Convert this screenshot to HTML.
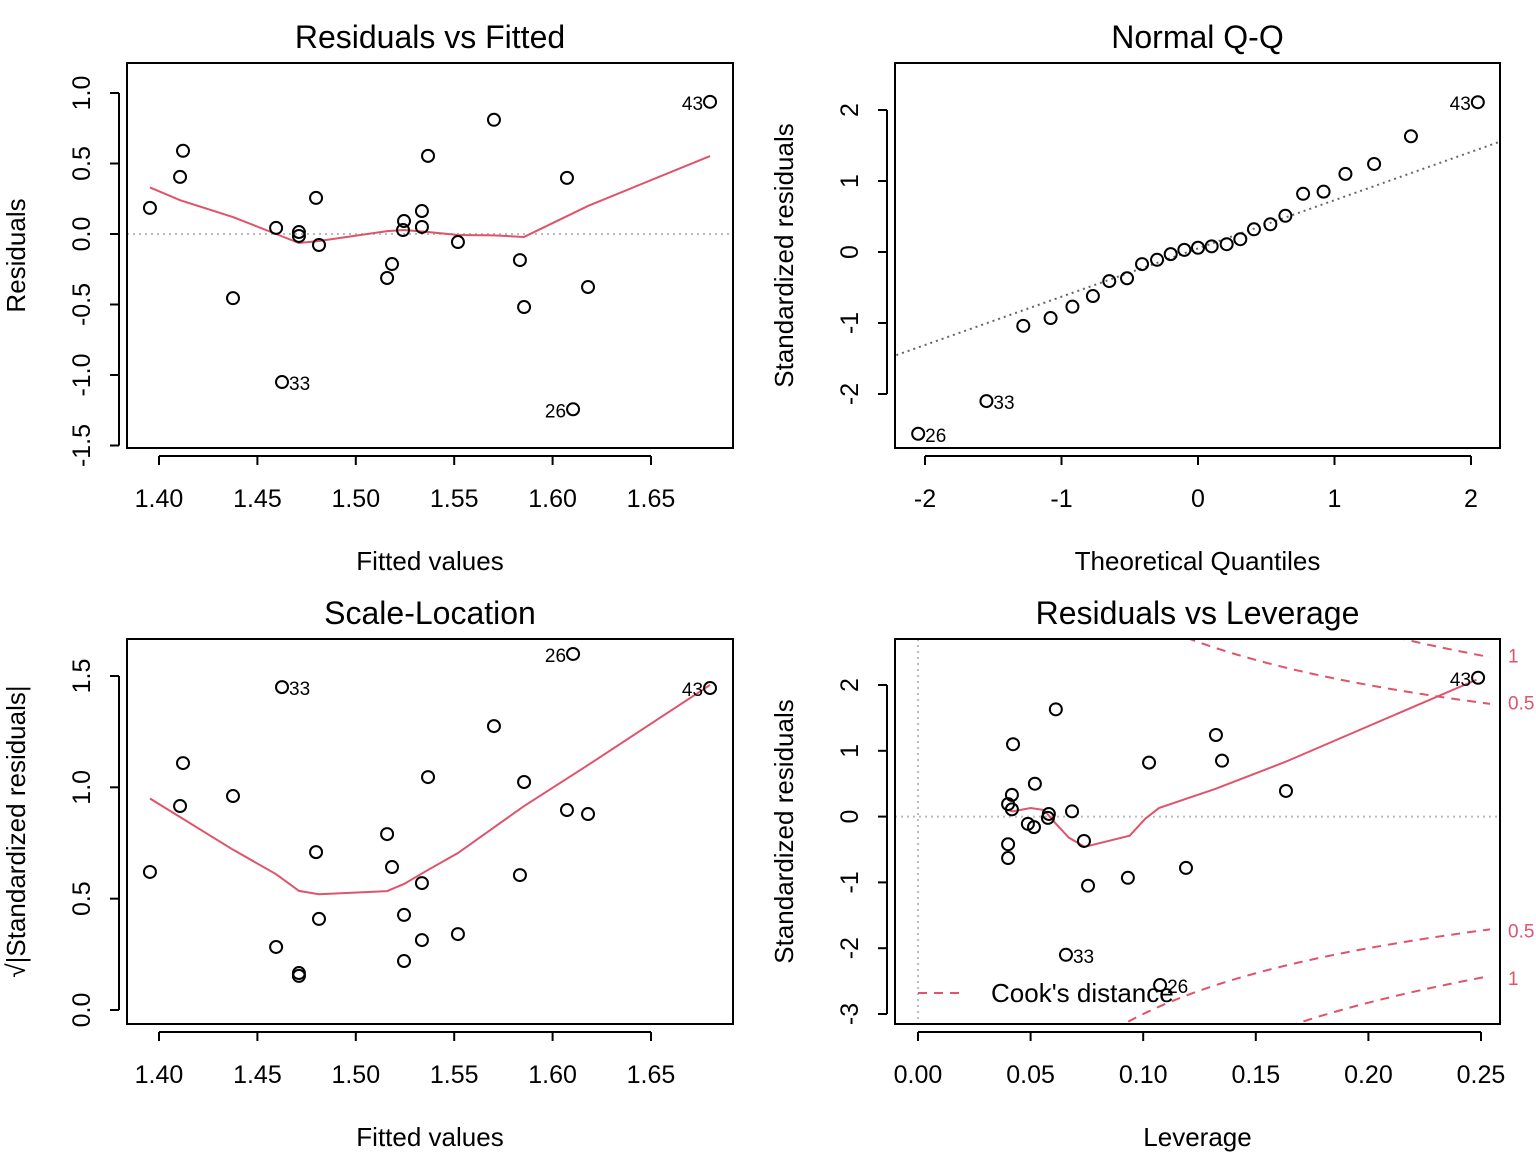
<!DOCTYPE html>
<html><head><meta charset="utf-8"><style>
html,body{margin:0;padding:0;background:#fff;overflow:hidden;width:1536px;height:1152px;}
svg{display:block;font-family:"Liberation Sans",Arial,sans-serif;overflow:hidden;}
</style></head><body>
<svg id="c" width="1536" height="1152" viewBox="0 0 1536 1152" xmlns="http://www.w3.org/2000/svg"></svg>
<script>
// ---- Panel 1: Residuals vs Fitted ----
const rvfFitted = [1.3954,1.4107,1.4122,1.4376,1.4595,1.4625,1.4711,1.4711,1.4798,1.4813,1.5159,1.5184,1.5245,1.524,1.5336,1.5336,1.5367,1.5519,1.5702,1.5834,1.5855,1.6073,1.6104,1.618,1.68];
const rvfResid = [0.185,0.405,0.59,-0.455,0.043,-1.05,0.014,-0.014,0.256,-0.078,-0.312,-0.213,0.092,0.028,0.163,0.05,0.554,-0.057,0.81,-0.185,-0.518,0.398,-1.243,-0.376,0.9375];
const ptLabels = ["","","","","","33","","","","","","","","","","","","","","","","","26","","43"];
const rvfSmoothX = [1.3954,1.4107,1.4376,1.4595,1.4711,1.4813,1.5159,1.5245,1.5367,1.5519,1.5702,1.5855,1.618,1.68];
const rvfSmoothY = [0.33,0.24,0.12,0.0,-0.064,-0.05,0.02,0.028,0.014,-0.007,-0.01,-0.021,0.199,0.553];
const rvfXTicks = [1.40,1.45,1.50,1.55,1.60,1.65];
const rvfYTicks = [-1.5,-1.0,-0.5,0.0,0.5,1.0];
// ---- Panel 2: Normal Q-Q ----
const qqTheo = [-2.05,-1.55,-1.28,-1.08,-0.92,-0.77,-0.65,-0.52,-0.41,-0.30,-0.20,-0.10,0,0.10,0.21,0.31,0.41,0.53,0.64,0.77,0.92,1.08,1.29,1.56,2.05];
const qqStd = [-2.56,-2.10,-1.04,-0.93,-0.77,-0.62,-0.41,-0.37,-0.17,-0.11,-0.03,0.03,0.06,0.08,0.11,0.18,0.32,0.39,0.51,0.82,0.85,1.10,1.24,1.63,2.11];
const qqLabels = ["26","33","","","","","","","","","","","","","","","","","","","","","","","43"];
const qqLine = [0.05,0.68]; // intercept, slope
const qqXTicks = [-2,-1,0,1,2];
const qqYTicks = [-2,-1,0,1,2];
// ---- Panel 3: Scale-Location ----
const slSqrt = [0.62,0.916,1.109,0.961,0.283,1.45,0.166,0.153,0.709,0.409,0.79,0.642,0.427,0.22,0.57,0.314,1.046,0.341,1.275,0.606,1.024,0.898,1.599,0.88,1.446];
const slFitted = [1.3954,1.4107,1.4122,1.4376,1.4595,1.4625,1.4711,1.4711,1.4798,1.4813,1.5159,1.5184,1.5245,1.5245,1.5336,1.5336,1.5367,1.5519,1.5702,1.5834,1.5855,1.6073,1.6104,1.618,1.68];
const slSmoothX = [1.3954,1.4376,1.4595,1.4711,1.4813,1.5159,1.5245,1.5367,1.5519,1.5855,1.618,1.68];
const slSmoothY = [0.95,0.72,0.61,0.535,0.52,0.534,0.566,0.629,0.705,0.916,1.10,1.46];
const slYTicks = [0.0,0.5,1.0,1.5];
// ---- Panel 4: Residuals vs Leverage ----
const levH = [0.0612,0.0422,0.1323,0.1350,0.1026,0.0519,0.1634,0.0417,0.0400,0.0417,0.0581,0.0577,0.0684,0.0488,0.0515,0.0737,0.0400,0.0400,0.1190,0.0932,0.0755,0.0657,0.1075,0.2487];
const levStd = [1.63,1.10,1.24,0.85,0.82,0.50,0.39,0.33,0.19,0.11,0.04,-0.02,0.08,-0.11,-0.16,-0.37,-0.42,-0.63,-0.78,-0.93,-1.05,-2.10,-2.56,2.11];
const levLabels = ["","","","","","","","","","","","","","","","","","","","","","33","26","43"];
const levSmoothX = [0.040,0.042,0.050,0.056,0.061,0.067,0.074,0.081,0.094,0.101,0.107,0.119,0.132,0.163,0.248];
const levSmoothY = [0.10,0.08,0.13,0.10,-0.10,-0.32,-0.46,-0.40,-0.29,-0.03,0.13,0.27,0.42,0.83,2.08];
const cookLevels = [0.5,1];
const levXTicks = [0.00,0.05,0.10,0.15,0.20,0.25];
const levYTicks = [-3,-2,-1,0,1,2];

const svg = document.getElementById('c');
const NS = 'http://www.w3.org/2000/svg';
function mk(tag, attrs, parent){ const e=document.createElementNS(NS,tag); for(const k in attrs) e.setAttribute(k,attrs[k]); (parent||svg).appendChild(e); return e; }
const RED = '#DF536B';
function linScale(d0,d1,p0,p1){ return v => p0 + (v-d0)*(p1-p0)/(d1-d0); }

function panel(cfg){
  const g = mk('g',{});
  
  
  const {L,T,R,B} = cfg.box;
  const sx = cfg.sx, sy = cfg.sy;
  const clipId = cfg.name+'-clip';
  const cp = mk('clipPath',{id:clipId},g); mk('rect',{x:L,y:T,width:R-L,height:B-T},cp);
  const t = mk('text',{x:(L+R)/2,y:T-15,'text-anchor':'middle','font-size':32},g); t.textContent = cfg.title;
   
  const xa = mk('g',{},g);
   
  mk('line',{x1:sx(cfg.xt[0]),x2:sx(cfg.xt[cfg.xt.length-1]),y1:B+8,y2:B+8,stroke:'#000','stroke-width':2},xa);
  cfg.xt.forEach(v=>{ const x=sx(v);
    mk('line',{x1:x,x2:x,y1:B+8,y2:B+17,stroke:'#000','stroke-width':2},xa);
    const tx=mk('text',{x:x,y:B+59,'text-anchor':'middle','font-size':25},xa); tx.textContent=cfg.xfmt(v);
      });
  const xl=mk('text',{x:(L+R)/2,y:B+122,'text-anchor':'middle','font-size':26},g); xl.textContent=cfg.xlab;
   
  const ya = mk('g',{},g);
   
  mk('line',{x1:L-8,x2:L-8,y1:sy(cfg.yt[0]),y2:sy(cfg.yt[cfg.yt.length-1]),stroke:'#000','stroke-width':2},ya);
  cfg.yt.forEach(v=>{ const y=sy(v);
    mk('line',{x1:L-8,x2:L-17,y1:y,y2:y,stroke:'#000','stroke-width':2},ya);
    const tx=mk('text',{x:0,y:0,'text-anchor':'middle','font-size':25,transform:`translate(${L-37},${y}) rotate(-90)`},ya); tx.textContent=cfg.yfmt(v);
      });
  const yl=mk('text',{x:0,y:0,'text-anchor':'middle','font-size':26,transform:`translate(${L-102},${(T+B)/2}) rotate(-90)`},g); yl.textContent=cfg.ylab;
   
  const pc = mk('g',{'clip-path':`url(#${clipId})`},g);
  if(cfg.pre) cfg.pre(pc);
  if(cfg.smx){
    const s = mk('polyline',{points:cfg.smx.map((x,i)=>sx(x)+','+sy(cfg.smy[i])).join(' '),fill:'none',stroke:RED,'stroke-width':2},pc);
     
  }
  cfg.px.forEach((x,i)=>{
    const c = mk('circle',{cx:sx(x),cy:sy(cfg.py[i]),r:6,fill:'none',stroke:'#000','stroke-width':2},g);
     
    const lab = cfg.labs[i];
    if(lab){
      const right = sx(x) < (L+R)/2 + 150 && !(cfg.leftLab && cfg.leftLab.includes(lab));
      const tl = mk('text',{x: right? sx(x)+7 : sx(x)-7, y: sy(cfg.py[i])+8,'text-anchor': right?'start':'end','font-size':19},g);
      tl.textContent = lab;
       
    }
  });
  if(cfg.post) cfg.post(g);
  const bx = mk('rect',{x:L,y:T,width:R-L,height:B-T,fill:'none',stroke:'#000','stroke-width':2},g);
   
}
const f2 = v=>v.toFixed(2), f1=v=>v.toFixed(1), f0=v=>String(v);

{ const sx=linScale(1.40,1.65,159,651), sy=linScale(0,1.0,234,93);
  panel({name:'residuals-vs-fitted',box:{L:127,T:63,R:733,B:448},sx,sy,title:'Residuals vs Fitted',xlab:'Fitted values',ylab:'Residuals',
    xt:rvfXTicks,yt:rvfYTicks,xfmt:f2,yfmt:f1,px:rvfFitted,py:rvfResid,labs:ptLabels,leftLab:['26','43'],smx:rvfSmoothX,smy:rvfSmoothY,
    pre:pc=>{ const l=mk('line',{x1:127,x2:733,y1:sy(0),y2:sy(0),stroke:'#bbb','stroke-width':2,'stroke-dasharray':'2 4'},pc);   }}); }
{ const sx=linScale(0,2,1198,1471), sy=linScale(0,2,252,110);
  panel({name:'normal-qq',box:{L:895,T:63,R:1500,B:448},sx,sy,title:'Normal Q-Q',xlab:'Theoretical Quantiles',ylab:'Standardized residuals',
    xt:qqXTicks,yt:qqYTicks,xfmt:f0,yfmt:f0,px:qqTheo,py:qqStd,labs:qqLabels,leftLab:['43'],
    pre:pc=>{ const a=-2.5,b=2.5; const l=mk('line',{x1:sx(a),x2:sx(b),y1:sy(qqLine[0]+qqLine[1]*a),y2:sy(qqLine[0]+qqLine[1]*b),stroke:'#666','stroke-width':2,'stroke-dasharray':'2 4'},pc);   }}); }
{ const sx=linScale(1.40,1.65,159,651), sy=linScale(0,1.5,1010,676);
  panel({name:'scale-location',box:{L:127,T:639,R:733,B:1024},sx,sy,title:'Scale-Location',xlab:'Fitted values',ylab:'√|Standardized residuals|',
    xt:rvfXTicks,yt:slYTicks,xfmt:f2,yfmt:f1,px:slFitted,py:slSqrt,labs:ptLabels,leftLab:['26','43'],smx:slSmoothX,smy:slSmoothY}); }
{ const sx=linScale(0,0.25,918,1481), sy=linScale(0,2,816.6,685);
  panel({name:'residuals-vs-leverage',box:{L:895,T:639,R:1500,B:1024},sx,sy,title:'Residuals vs Leverage',xlab:'Leverage',ylab:'Standardized residuals',
    xt:levXTicks,yt:levYTicks,xfmt:f2,yfmt:f0,px:levH,py:levStd,labs:levLabels,leftLab:['43'],smx:levSmoothX,smy:levSmoothY,
    pre:pc=>{
      const z=mk('line',{x1:895,x2:1500,y1:sy(0),y2:sy(0),stroke:'#bbb','stroke-width':2,'stroke-dasharray':'2 4'},pc);  
      const v=mk('line',{x1:sx(0),x2:sx(0),y1:639,y2:1024,stroke:'#bbb','stroke-width':2,'stroke-dasharray':'2 4'},pc);  
      cookLevels.forEach(lv=>{ [1,-1].forEach(sg=>{
        const pts=[]; for(let h=0.01;h<=0.2551;h+=0.002){ pts.push(sx(h)+','+sy(sg*Math.sqrt(lv*2*(1-h)/h))); }
        const pl=mk('polyline',{points:pts.join(' '),fill:'none',stroke:RED,'stroke-width':2,'stroke-dasharray':'9 7'},pc);
          }); });
    },
    post:g=>{
      cookLevels.forEach(lv=>{ [1,-1].forEach(sg=>{ const h=0.25;
        const t=mk('text',{x:1508,y:sy(sg*Math.sqrt(lv*2*(1-h)/h))+7,'font-size':19,fill:RED},g); t.textContent=String(lv);
          }); });
      const lg=mk('g',{},g);  
      mk('line',{x1:918,x2:962,y1:993,y2:993,stroke:RED,'stroke-width':2,'stroke-dasharray':'9 7'},lg);
      const lt=mk('text',{x:991,y:1002,'font-size':26},lg); lt.textContent="Cook's distance";
       
    }}); }
</script>
</body></html>
